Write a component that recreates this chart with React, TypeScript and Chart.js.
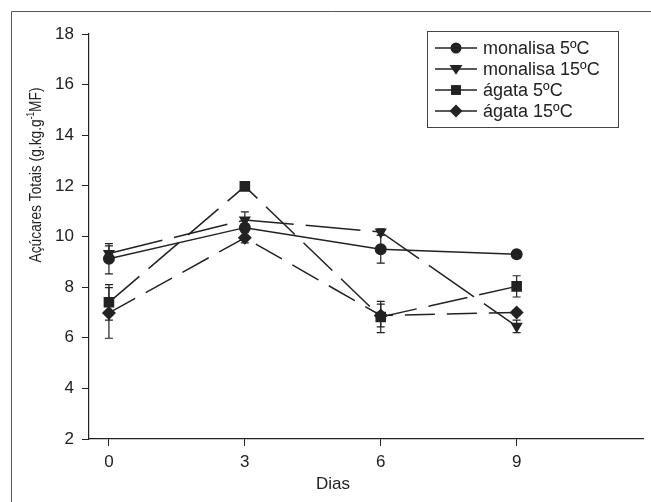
import React, { useEffect, useRef } from "react";
import { Chart, registerables } from "chart.js";

Chart.register(...registerables);

const days = [0, 3, 6, 9];
const xTicks = [0, 3, 6, 9];
const yTicks = [2, 4, 6, 8, 10, 12, 14, 16, 18];

const seriesNames = ["monalisa 5ºC", "monalisa 15ºC", "ágata 5ºC", "ágata 15ºC"];
const monalisa5 = [9.12, 10.35, 9.5, 9.3];
const monalisa15 = [9.33, 10.65, 10.18, 6.45];
const agata5 = [7.4, 11.98, 6.82, 8.03];
const agata15 = [6.98, 9.95, 6.88, 7.0];

const monalisa5Err = [0.6, 0.15, 0.55, 0.08];
const monalisa15Err = [0.3, 0.32, 0.12, 0.25];
const agata5Err = [0.7, 0.1, 0.62, 0.42];
const agata15Err = [1.0, 0.2, 0.45, 0.1];

const INK = "#222222";
const FONT = "'Liberation Sans', Arial, sans-serif";
const FS = 17;
const LEGEND_FS = 18;

const styles = [
  { shape: "circle", dash: [] as number[], radius: 6, rotation: 0 },
  { shape: "triangle", dash: [55, 12], radius: 7, rotation: 180 },
  { shape: "rect", dash: [40, 12], radius: 7.5, rotation: 0 },
  { shape: "rectRot", dash: [30, 12], radius: 7, rotation: 0 },
];

function drawMarker(ctx: CanvasRenderingContext2D, shape: string, x: number, y: number, r: number) {
  ctx.beginPath();
  if (shape === "circle") {
    ctx.arc(x, y, r, 0, Math.PI * 2);
  } else if (shape === "triangle") {
    ctx.moveTo(x - r, y - r * 0.6);
    ctx.lineTo(x + r, y - r * 0.6);
    ctx.lineTo(x, y + r * 0.9);
    ctx.closePath();
  } else if (shape === "rect") {
    const s = r * Math.SQRT1_2;
    ctx.rect(x - s, y - s, 2 * s, 2 * s);
  } else {
    ctx.moveTo(x, y - r);
    ctx.lineTo(x + r, y);
    ctx.lineTo(x, y + r);
    ctx.lineTo(x - r, y);
    ctx.closePath();
  }
  ctx.fill();
}

export default function App() {
  const ref = useRef<HTMLCanvasElement | null>(null);

  useEffect(() => {
    if (!ref.current) return;
    const values = [monalisa5, monalisa15, agata5, agata15];
    const errs = [monalisa5Err, monalisa15Err, agata5Err, agata15Err];

    const errorBars = {
      id: "errorBars",
      beforeDatasetsDraw(chart: any) {
        const ctx = chart.ctx;
        const xs = chart.scales.x;
        const ys = chart.scales.y;
        ctx.save();
        ctx.strokeStyle = INK;
        ctx.lineWidth = 1.2;
        values.forEach((vals, i) => {
          vals.forEach((v, j) => {
            const e = errs[i][j];
            const px = xs.getPixelForValue(days[j]);
            const top = ys.getPixelForValue(v + e);
            const bot = ys.getPixelForValue(v - e);
            ctx.beginPath();
            ctx.moveTo(px, top);
            ctx.lineTo(px, bot);
            ctx.moveTo(px - 4, top);
            ctx.lineTo(px + 4, top);
            ctx.moveTo(px - 4, bot);
            ctx.lineTo(px + 4, bot);
            ctx.stroke();
          });
        });
        ctx.restore();
      },
    };

    const decorations = {
      id: "decorations",
      afterDraw(chart: any) {
        const ctx = chart.ctx;
        ctx.save();
        // outer frame (top and left edges visible)
        ctx.strokeStyle = "#555";
        ctx.lineWidth = 1;
        ctx.beginPath();
        ctx.moveTo(11.5, 502);
        ctx.lineTo(11.5, 11.5);
        ctx.lineTo(651, 11.5);
        ctx.stroke();

        // legend
        ctx.strokeStyle = "#444";
        ctx.strokeRect(427.5, 31.5, 191, 96);
        ctx.font = `${LEGEND_FS}px ${FONT}`;
        ctx.textBaseline = "middle";
        ctx.textAlign = "left";
        seriesNames.forEach((name, i) => {
          const y = 48 + i * 21;
          ctx.strokeStyle = INK;
          ctx.lineWidth = 1.5;
          ctx.beginPath();
          ctx.moveTo(435, y);
          ctx.lineTo(477, y);
          ctx.stroke();
          ctx.fillStyle = INK;
          drawMarker(ctx, styles[i].shape, 456, y, styles[i].radius - 0.5);
          ctx.fillText(name, 483, y + 1);
        });

        // x title
        ctx.font = `${FS}px ${FONT}`;
        ctx.textAlign = "center";
        ctx.fillText("Dias", 333, 484);

        // y title (rotated, condensed)
        ctx.translate(36, 175);
        ctx.rotate(-Math.PI / 2);
        ctx.scale(0.81, 1);
        const main = "Açúcares Totais (g.kg.g";
        const sup = "-1";
        const tail = "MF)";
        ctx.font = `${FS}px ${FONT}`;
        const w1 = ctx.measureText(main).width;
        const w3 = ctx.measureText(tail).width;
        ctx.font = `${FS * 0.6}px ${FONT}`;
        const w2 = ctx.measureText(sup).width;
        const total = w1 + w2 + w3;
        let cx = -total / 2;
        ctx.textAlign = "left";
        ctx.font = `${FS}px ${FONT}`;
        ctx.fillText(main, cx, 0);
        cx += w1;
        ctx.font = `${FS * 0.6}px ${FONT}`;
        ctx.fillText(sup, cx, -5);
        cx += w2;
        ctx.font = `${FS}px ${FONT}`;
        ctx.fillText(tail, cx, 0);
        ctx.restore();
      },
    };

    const chart = new Chart(ref.current, {
      type: "line",
      data: {
        datasets: values.map((vals, i) => ({
          label: seriesNames[i],
          data: vals.map((v, j) => ({ x: days[j], y: v })),
          borderColor: INK,
          backgroundColor: INK,
          borderWidth: 1.5,
          borderDash: styles[i].dash,
          pointStyle: styles[i].shape as any,
          pointRadius: styles[i].radius,
          pointRotation: styles[i].rotation,
          pointBackgroundColor: INK,
          pointBorderColor: INK,
          pointBorderWidth: 0,
          fill: false,
          tension: 0,
        })),
      },
      options: {
        animation: false,
        responsive: false,
        events: [],
        layout: { padding: { top: 34, right: 4, left: 0, bottom: 0 } },
        plugins: {
          legend: { display: false },
          tooltip: { enabled: false },
          title: { display: false },
        },
        scales: {
          x: {
            type: "linear",
            min: -0.44,
            max: 11.8,
            afterBuildTicks: (scale: any) => {
              scale.ticks = xTicks.map((v) => ({ value: v }));
            },
            afterFit: (scale: any) => {
              scale.height = 63;
            },
            grid: { drawOnChartArea: false, drawTicks: true, tickLength: 7, color: INK, lineWidth: 1 },
            border: { display: true, color: INK, width: 1.2 },
            ticks: {
              color: INK,
              font: { family: FONT, size: FS },
              padding: 6,
              callback: (v: any) => String(v),
            },
          },
          y: {
            type: "linear",
            min: 2,
            max: 18,
            afterBuildTicks: (scale: any) => {
              scale.ticks = yTicks.map((v) => ({ value: v }));
            },
            afterFit: (scale: any) => {
              scale.width = 89;
            },
            grid: { drawOnChartArea: false, drawTicks: true, tickLength: 7, color: INK, lineWidth: 1 },
            border: { display: true, color: INK, width: 1.2 },
            ticks: {
              color: INK,
              font: { family: FONT, size: FS },
              padding: 8,
              callback: (v: any) => String(v),
            },
          },
        },
      },
      plugins: [errorBars, decorations],
    });
    return () => chart.destroy();
  }, []);

  return (
    <div style={{ position: "absolute", left: 0, top: 0, width: 651, height: 502, background: "#fff" }}>
      <canvas ref={ref} width={651} height={502} />
    </div>
  );
}
